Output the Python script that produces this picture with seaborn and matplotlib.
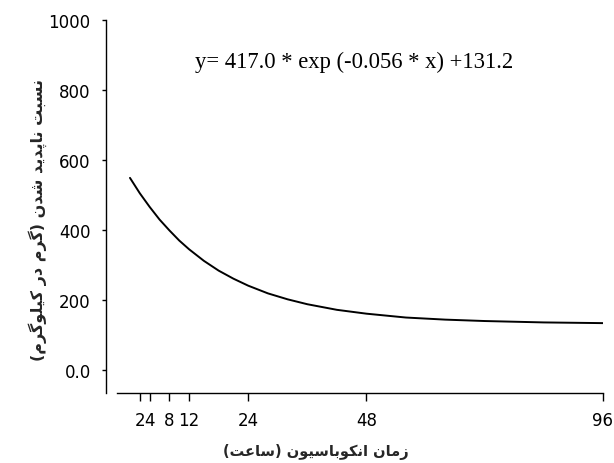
import numpy as np
import pandas as pd
import matplotlib
matplotlib.use("Agg")
import matplotlib.pyplot as plt
import seaborn as sns

# ---- data ----
hours = [0, 2, 4, 6, 8, 10, 12, 15, 18, 21, 24, 28, 32, 36, 42, 48, 56, 64, 72, 84, 96]
disappearance = [548, 504, 465, 429, 398, 369, 344, 311, 283, 260, 240, 218, 201, 187,
                 171, 160, 149, 143, 139, 135, 133]
x_ticks = [2, 4, 8, 12, 24, 48, 96]
x_tick_labels = ["2", "4", "8", "12", "24", "48", "96"]
y_ticks = [0, 200, 400, 600, 800, 1000]
y_tick_labels = ["0.0", "200", "400", "600", "800", "1000"]
equation = "y= 417.0 * exp (-0.056 * x) +131.2"
x_label = "زمان انکوباسیون (ساعت)"
y_label = "نسبت ناپدید شدن (گرم در کیلوگرم)"

# ---- minimal Persian shaping (presentation forms) + visual reordering ----
DUAL = {
    "ب": (0xFE8F, 0xFE90, 0xFE91, 0xFE92), "پ": (0xFB56, 0xFB57, 0xFB58, 0xFB59),
    "ت": (0xFE95, 0xFE96, 0xFE97, 0xFE98), "س": (0xFEB1, 0xFEB2, 0xFEB3, 0xFEB4),
    "ش": (0xFEB5, 0xFEB6, 0xFEB7, 0xFEB8), "ن": (0xFEE5, 0xFEE6, 0xFEE7, 0xFEE8),
    "ی": (0xFBFC, 0xFBFD, 0xFBFE, 0xFBFF), "ک": (0xFB8E, 0xFB8F, 0xFB90, 0xFB91),
    "گ": (0xFB92, 0xFB93, 0xFB94, 0xFB95), "ل": (0xFEDD, 0xFEDE, 0xFEDF, 0xFEE0),
    "م": (0xFEE1, 0xFEE2, 0xFEE3, 0xFEE4), "ع": (0xFEC9, 0xFECA, 0xFECB, 0xFECC),
}
RIGHT = {
    "ا": (0xFE8D, 0xFE8E), "د": (0xFEA9, 0xFEAA), "ر": (0xFEAD, 0xFEAE),
    "ز": (0xFEAF, 0xFEB0), "و": (0xFEED, 0xFEEE),
}


def shape(text):
    out = []
    n = len(text)
    for i, ch in enumerate(text):
        prev = text[i - 1] if i > 0 else None
        nxt = text[i + 1] if i < n - 1 else None
        if ch in DUAL or ch in RIGHT:
            jp = prev in DUAL
            jn = ch in DUAL and (nxt in DUAL or nxt in RIGHT)
            if ch in DUAL:
                forms = DUAL[ch]
                idx = 3 if (jp and jn) else 1 if jp else 2 if jn else 0
            else:
                forms = RIGHT[ch]
                idx = 1 if jp else 0
            out.append(chr(forms[idx]))
        else:
            out.append(ch)
    vis = "".join(reversed(out))
    return vis.translate(str.maketrans("()", ")("))


sns.set_theme(style="ticks")
plt.rcParams["font.family"] = ["DejaVu Sans"]

df = pd.DataFrame({"hours": hours, "value": disappearance})

fig = plt.figure(figsize=(6.14, 4.64), dpi=100)
ax = fig.add_axes([0.1726, 0.1509, 0.8094, 0.8045])
sns.lineplot(data=df, x="hours", y="value", ax=ax, color="black", linewidth=1.4)

ax.set_xlim(-4.87, 96)
ax.set_ylim(-66.6, 1000)
ax.spines["top"].set_visible(False)
ax.spines["right"].set_visible(False)
ax.spines["bottom"].set_bounds(-2.6, 96)
for s in ("left", "bottom"):
    ax.spines[s].set_linewidth(1.0)
    ax.spines[s].set_color("black")

ax.set_xticks(x_ticks)
ax.set_xticklabels(x_tick_labels)
ax.set_yticks(y_ticks)
ax.set_yticklabels(y_tick_labels)
ax.tick_params(axis="x", direction="out", length=6, width=1.0, pad=7,
               labelsize=12, colors="black")
ax.tick_params(axis="y", direction="out", length=3, width=1.0, pad=8,
               labelsize=12, colors="black")

ax.set_xlabel(shape(x_label), fontsize=10.5, fontweight="bold")
ax.xaxis.set_label_coords(0.4225, -0.155)
ax.xaxis.label.set_verticalalignment("center")
ax.set_ylabel(shape(y_label), fontsize=11.5, fontweight="bold")
ax.yaxis.set_label_coords(-0.137, 0.466)
ax.yaxis.label.set_verticalalignment("center")

ax.text(0.5, 0.889, equation, transform=ax.transAxes, ha="center", va="center",
        fontsize=16.3, family=["Liberation Serif"], color="black")

fig.savefig("out.png", dpi=100, facecolor="white")
